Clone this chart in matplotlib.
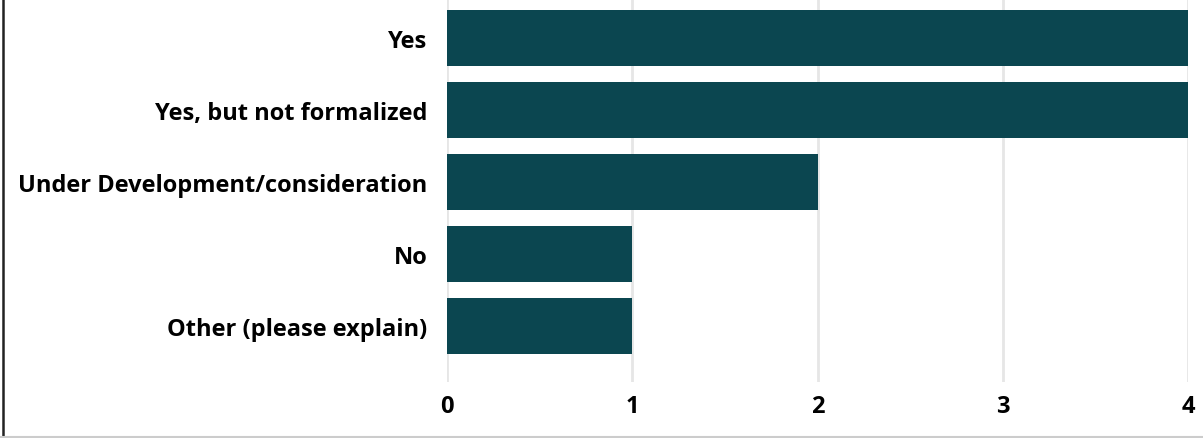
import matplotlib.pyplot as plt
from matplotlib.lines import Line2D

categories = ["Yes", "Yes, but not formalized", "Under Development/consideration",
              "No", "Other (please explain)"]
counts = [4, 4, 2, 1, 1]
x_ticks = [0, 1, 2, 3, 4]

bar_color = "#0b4650"

plt.rcParams['font.family'] = ['Open Sans', 'DejaVu Sans']

fig = plt.figure(figsize=(12.03, 4.39), dpi=100)
W, H = 1203, 439
ax = fig.add_axes([447 / W, 1 - 383 / H, (1188 - 447) / W, 383 / H])

pos = list(range(len(categories)))
ax.barh(pos, counts, height=0.78, color=bar_color, zorder=3)

ax.set_ylim(4.78, -0.54)
ax.set_xlim(0, 4)
ax.set_yticks(pos)
ax.set_yticklabels(categories, fontsize=17, fontweight='bold')
ax.set_xticks(x_ticks)
ax.set_xticklabels([str(t) for t in x_ticks], fontsize=17, fontweight='bold')
ax.tick_params(axis='y', length=0, pad=14)
ax.tick_params(axis='x', length=0, pad=9)
ax.grid(axis='x', color='#e6e6e6', linewidth=2, zorder=0)
for s in ax.spines.values():
    s.set_visible(False)

# frame edges around the figure
fig.add_artist(Line2D([2.5 / W, 2.5 / W], [0, 1], color='#222222', linewidth=1.8))
fig.add_artist(Line2D([0, 1], [1.5 / H, 1.5 / H], color='#cccccc', linewidth=1.5))

fig.savefig("out.png", dpi=100)
